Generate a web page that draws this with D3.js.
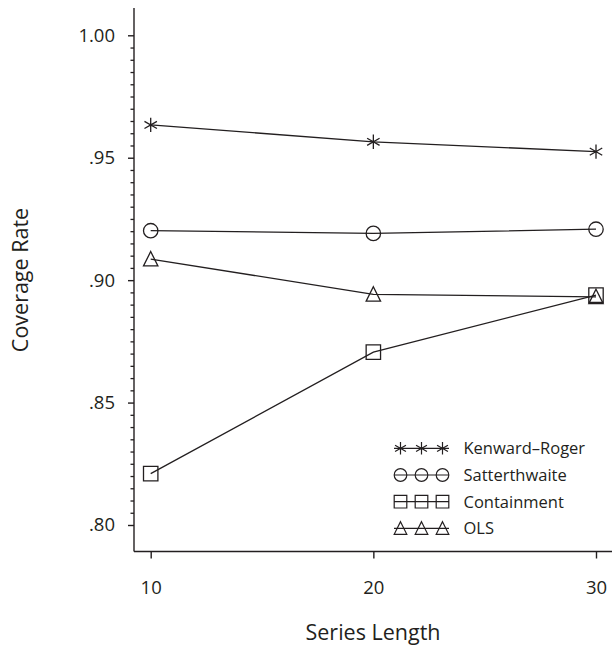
<!DOCTYPE html>
<html>
<head>
<meta charset="utf-8">
<script src="https://cdn.jsdelivr.net/npm/d3@7"></script>
<style>
  html, body { margin: 0; padding: 0; background: #fff; }
  svg { display: block; }
  text { font-family: "Open Sans", "Noto Sans", sans-serif; fill: #231f20; }
</style>
</head>
<body>
<svg id="chart" width="612" height="648"></svg>
<script>
// ---- data ----
const seriesLength = [10, 20, 30];
const kenwardRoger = [0.9634, 0.9565, 0.9525];
const satterthwaite = [0.9202, 0.9191, 0.9208];
const containment = [0.8210, 0.8706, 0.8939];
const ols = [0.9086, 0.8942, 0.8932];
const seriesNames = ["Kenward\u2013Roger", "Satterthwaite", "Containment", "OLS"];
const seriesSymbols = ["asterisk", "circle", "square", "triangle"];
const yTickValues = [0.80, 0.85, 0.90, 0.95, 1.00];
const yTickLabels = [".80", ".85", ".90", ".95", "1.00"];
const xTickValues = [10, 20, 30];
const xTickLabels = ["10", "20", "30"];
const xTitle = "Series Length";
const yTitle = "Coverage Rate";

const seriesValues = [kenwardRoger, satterthwaite, containment, ols];

const svg = d3.select("#chart");
const ink = "#231f20";

const axisX = 134, axisTop = 8, axisBottom = 551.5, axisRight = 612;

const x = d3.scaleLinear().domain([10, 30]).range([150.7, 596]);
const y = d3.scaleLinear().domain([0.80, 1.00]).range([525, 35.3]);

// axis lines
svg.append("line").attr("x1", axisX).attr("x2", axisX).attr("y1", axisTop).attr("y2", axisBottom)
  .attr("stroke", ink).attr("stroke-width", 1.4);
svg.append("line").attr("x1", axisX).attr("x2", axisRight).attr("y1", axisBottom).attr("y2", axisBottom)
  .attr("stroke", ink).attr("stroke-width", 1.4);

// y axis major ticks
const yAxis = d3.axisLeft(y).tickValues(yTickValues)
  .tickFormat((d, i) => yTickLabels[i]).tickSize(6).tickPadding(13);
const gy = svg.append("g").attr("transform", `translate(${axisX},0)`).call(yAxis);
gy.select(".domain").remove();
gy.selectAll("line").attr("stroke", ink).attr("stroke-width", 1.4);
gy.selectAll("text").attr("font-size", 18.5).attr("font-family", '"Open Sans", sans-serif').attr("fill", ink);

// y minor ticks
const minor = d3.range(0, 41).map(i => 0.80 + i * 0.005).filter((d, i) => i % 10 !== 0);
const gyMinor = svg.append("g").attr("transform", `translate(${axisX},0)`)
  .call(d3.axisLeft(y).tickValues(minor).tickFormat("").tickSize(3.5));
gyMinor.select(".domain").remove();
gyMinor.selectAll("line").attr("stroke", ink).attr("stroke-width", 1.3);

// x axis
const xAxis = d3.axisBottom(x).tickValues(xTickValues)
  .tickFormat((d, i) => xTickLabels[i]).tickSize(7).tickPadding(22);
const gx = svg.append("g").attr("transform", `translate(0,${axisBottom})`).call(xAxis);
gx.select(".domain").remove();
gx.selectAll("line").attr("stroke", ink).attr("stroke-width", 1.4);
gx.selectAll("text").attr("font-size", 18.5).attr("font-family", '"Open Sans", sans-serif').attr("fill", ink);

// titles
svg.append("text").attr("x", 373).attr("y", 640).attr("text-anchor", "middle")
  .attr("font-size", 21.5).text(xTitle);
svg.append("text").attr("transform", "translate(28,280) rotate(-90)").attr("text-anchor", "middle")
  .attr("font-size", 21.5).text(yTitle);

// symbol path generator
function symbolPath(type, cx, cy, r) {
  if (type === "circle") {
    return `M${cx - r},${cy}A${r},${r} 0 1,0 ${cx + r},${cy}A${r},${r} 0 1,0 ${cx - r},${cy}Z`;
  }
  if (type === "square") {
    return `M${cx - r},${cy - r}H${cx + r}V${cy + r}H${cx - r}Z`;
  }
  if (type === "triangle") {
    return `M${cx},${cy - r * 1.05}L${cx + r},${cy + r * 0.95}H${cx - r}Z`;
  }
  // asterisk: six spokes
  const dx = r * Math.cos(Math.PI / 6), dy = r * Math.sin(Math.PI / 6);
  return `M${cx},${cy - r}V${cy + r}M${cx - dx},${cy - dy}L${cx + dx},${cy + dy}M${cx - dx},${cy + dy}L${cx + dx},${cy - dy}`;
}

const line = d3.line().x((d, i) => x(seriesLength[i])).y(d => y(d));

seriesValues.forEach((vals, s) => {
  svg.append("path").attr("d", line(vals)).attr("fill", "none")
    .attr("stroke", ink).attr("stroke-width", 1.3);
  svg.append("g").selectAll("path").data(vals).join("path")
    .attr("d", (d, i) => symbolPath(seriesSymbols[s], x(seriesLength[i]), y(d), 7.2))
    .attr("fill", "none").attr("stroke", ink).attr("stroke-width", 1.3);
});

// legend
const legendY = [448.3, 475, 501.7, 528.3];
seriesNames.forEach((name, s) => {
  const ly = legendY[s];
  const g = svg.append("g");
  g.append("line").attr("x1", 394).attr("x2", 449).attr("y1", ly).attr("y2", ly)
    .attr("stroke", ink).attr("stroke-width", 1.2);
  [400.5, 421.5, 442.5].forEach(cx => {
    g.append("path").attr("d", symbolPath(seriesSymbols[s], cx, ly, 6.3))
      .attr("fill", "none").attr("stroke", ink).attr("stroke-width", 1.2);
  });
  g.append("text").attr("x", 463.5).attr("y", ly + 6).attr("font-size", 16.5).text(name);
});
</script>
</body>
</html>
